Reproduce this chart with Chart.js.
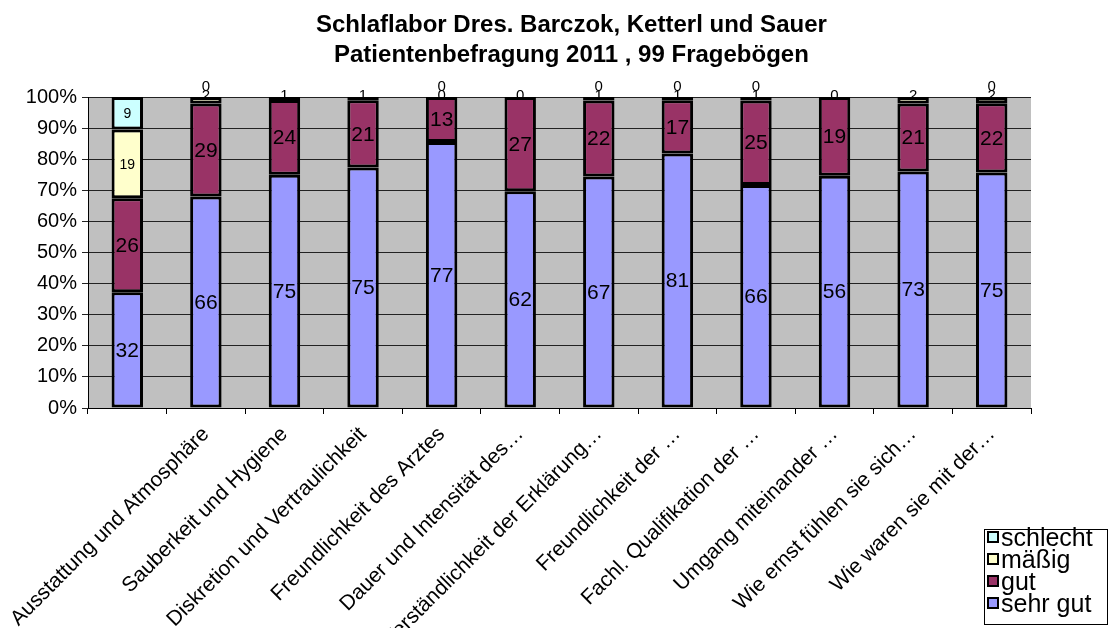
<!DOCTYPE html>
<html>
<head>
<meta charset="utf-8">
<script src="https://cdn.jsdelivr.net/npm/chart.js@4.4.1/dist/chart.umd.min.js"></script>
<style>
  html, body { margin: 0; padding: 0; background: #fff; }
  #wrap { width: 1108px; height: 628px; position: relative; }
</style>
</head>
<body>
<div id="wrap"><canvas id="chart"></canvas></div>
<script>
// Kategorien (erste Beschriftung fehlt im Original)
const categories = ['', 'Ausstattung und Atmosphäre', 'Sauberkeit und Hygiene', 'Diskretion und Vertraulichkeit',
  'Freundlichkeit des Arztes', 'Dauer und Intensität des…', 'Verständlichkeit der Erklärung…',
  'Freundlichkeit der …', 'Fachl. Qualifikation der …', 'Umgang miteinander …',
  'Wie ernst fühlen sie sich…', 'Wie waren sie mit der…'];

// Anzahl Antworten pro Kategorie
const sehrGut  = [32, 66, 75, 75, 77, 62, 67, 81, 66, 56, 73, 75];
const gut      = [26, 29, 24, 21, 13, 27, 22, 17, 25, 19, 21, 22];
const maessig  = [19, 2, 1, 1, 0, 0, 1, 1, 1, 0, 2, 2];
const schlecht = [9, 0, null, null, 0, null, 0, 0, 0, null, null, 0];

const seriesNames = ['sehr gut', 'gut', 'mäßig', 'schlecht'];
const seriesColors = ['#9999FF', '#993366', '#FFFFCC', '#CCFFFF'];
const yTicks = [0, 10, 20, 30, 40, 50, 60, 70, 80, 90, 100];
const titleLines = ['Schlaflabor Dres. Barczok, Ketterl und Sauer', 'Patientenbefragung 2011 , 99 Fragebögen'];

const FONT = '"Liberation Sans", Arial, sans-serif';
const counts = [sehrGut, gut, maessig, schlecht];

// Summe je Kategorie -> Prozentwerte (100%-gestapelt)
const totals = categories.map((c, j) => counts.reduce((s, arr) => s + (arr[j] || 0), 0));
const percent = arr => arr.map((v, j) => (v || 0) / totals[j] * 100);

// Hintergrund, Titel, Datenbeschriftungen, Legende
const excelLook = {
  id: 'excelLook',
  beforeDraw(chart) {
    const { ctx, chartArea: a } = chart;
    ctx.save();
    ctx.fillStyle = '#C0C0C0';
    ctx.fillRect(a.left, a.top, a.right - a.left, a.bottom - a.top);
    ctx.restore();
  },
  afterDatasetsDraw(chart) {
    const ctx = chart.ctx;
    ctx.save();
    ctx.fillStyle = '#000';
    ctx.textAlign = 'center';
    ctx.textBaseline = 'middle';
    counts.forEach((arr, i) => {
      const meta = chart.getDatasetMeta(i);
      meta.data.forEach((el, j) => {
        const v = arr[j];
        if (v === null || v === undefined) return;
        const h = el.base - el.y;
        let y = (el.y + el.base) / 2;
        ctx.font = (i < 2 ? '21px ' : (h < 10 ? '15px ' : '14px ')) + FONT;
        if (h < 10) y = el.y - (i === 3 ? 11 : 2);
        ctx.fillText(String(v), el.x, y + 1);
      });
    });
    ctx.restore();
  },
  afterDraw(chart) {
    const ctx = chart.ctx;
    ctx.save();
    // Titel
    ctx.fillStyle = '#000';
    ctx.textAlign = 'center';
    ctx.textBaseline = 'alphabetic';
    ctx.font = 'bold 24px ' + FONT;
    const cx = 316 + ctx.measureText(titleLines[0]).width / 2;
    ctx.fillText(titleLines[0], cx, 32);
    ctx.fillText(titleLines[1], cx, 62);
    // Legende
    const lx = 984, ly = 529, lw = 123, lh = 95;
    ctx.fillStyle = '#fff';
    ctx.fillRect(lx, ly, lw, lh);
    ctx.strokeStyle = '#000';
    ctx.lineWidth = 1;
    ctx.strokeRect(lx + 0.5, ly + 0.5, lw, lh);
    ctx.font = '25px ' + FONT;
    ctx.textAlign = 'left';
    for (let k = 0; k < 4; k++) {
      const idx = 3 - k;
      const base = 546 + k * 22;
      ctx.fillStyle = seriesColors[idx];
      ctx.fillRect(lx + 4, base - 14, 10, 10);
      ctx.lineWidth = 2;
      ctx.strokeRect(lx + 4, base - 14, 10, 10);
      ctx.fillStyle = '#000';
      ctx.fillText(seriesNames[idx], lx + 17, base);
    }
    ctx.restore();
  }
};

new Chart(document.getElementById('chart'), {
  type: 'bar',
  data: {
    labels: categories,
    datasets: counts.map((arr, i) => ({
      label: seriesNames[i],
      data: percent(arr),
      backgroundColor: seriesColors[i],
      borderColor: '#000',
      borderWidth: 3,
      borderSkipped: false,
      categoryPercentage: 1,
      barPercentage: 0.4
    }))
  },
  options: {
    responsive: true,
    maintainAspectRatio: false,
    animation: false,
    layout: { padding: { top: 97, right: 77, left: 0, bottom: 0 } },
    plugins: {
      legend: { display: false },
      title: { display: false },
      tooltip: { enabled: false }
    },
    scales: {
      x: {
        stacked: true,
        afterFit: s => { s.height = 220; },
        grid: { offset: true, drawOnChartArea: false, color: '#000', tickLength: 6 },
        border: { color: '#000', width: 1 },
        ticks: {
          autoSkip: false,
          maxRotation: 45,
          minRotation: 45,
          color: '#000',
          font: { family: FONT, size: 21 },
          padding: 8
        }
      },
      y: {
        stacked: true,
        min: 0,
        max: 100,
        afterFit: s => { s.width = 88; },
        afterBuildTicks: s => { s.ticks = yTicks.map(v => ({ value: v })); },
        grid: { color: '#222', lineWidth: 1, tickLength: 6 },
        border: { color: '#000', width: 1 },
        ticks: {
          color: '#000',
          font: { family: FONT, size: 20 },
          padding: 5,
          callback: v => v + '%'
        }
      }
    }
  },
  plugins: [excelLook]
});
</script>
</body>
</html>
